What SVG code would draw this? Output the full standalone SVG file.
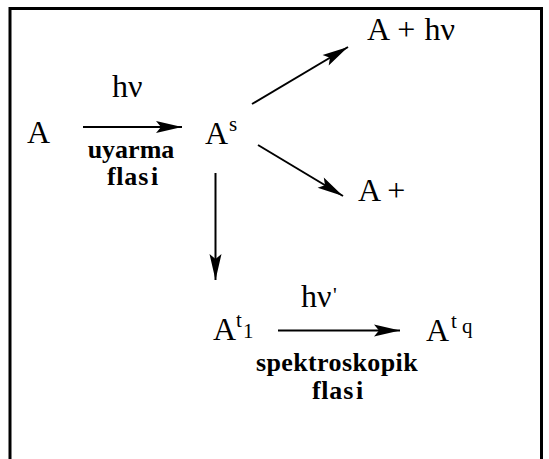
<svg xmlns="http://www.w3.org/2000/svg" width="549" height="459" viewBox="0 0 549 459">
<style>
.t{font-family:"Liberation Serif","Times New Roman",serif;font-size:32px;fill:#000}
.s{font-family:"Liberation Serif","Times New Roman",serif;font-size:21px;fill:#000}
.b{font-family:"Liberation Serif","Times New Roman",serif;font-size:26px;font-weight:bold;fill:#000;text-anchor:middle}
.c{stroke:#000;stroke-width:2;fill:none}
</style>
<defs>
<marker id="ah" markerUnits="userSpaceOnUse" markerWidth="28" markerHeight="14" refX="26" refY="6" orient="auto" overflow="visible">
<path d="M0,0 L26,6 L0,12 L5,6 z" fill="#000"/>
</marker>
</defs>
<rect x="10" y="8.5" width="531.5" height="470" fill="#fff" stroke="#000" stroke-width="3"/>
<g id="connectors">
<line class="c" x1="83" y1="127" x2="182" y2="127" marker-end="url(#ah)"/>
<line class="c" x1="252" y1="104" x2="348" y2="47" marker-end="url(#ah)"/>
<line class="c" x1="258" y1="145" x2="343" y2="196" marker-end="url(#ah)"/>
<line class="c" x1="215.5" y1="173" x2="215.5" y2="280" stroke-width="5" marker-end="url(#ah)"/>
<line class="c" x1="278" y1="330.5" x2="400" y2="330.5" marker-end="url(#ah)"/>
</g>
<g id="label1">
<text class="t" x="112" y="97">hν</text>
<text class="b" x="131" y="158">uyarma</text>
<text class="b" x="133" y="185" letter-spacing="0.8">flas<tspan dx="2">i</tspan></text>
</g>
<g id="nodeA"><text class="t" x="27" y="143">A</text></g>
<g id="nodeAs"><text class="t" x="205" y="144">A</text><text class="s" x="229" y="131">s</text></g>
<g id="nodeAhv"><text class="t" x="367" y="40" word-spacing="1">A + hν</text></g>
<g id="nodeAplus"><text class="t" x="358" y="201">A +</text></g>
<g id="nodeAt1"><text class="t" x="213" y="340">A</text><text class="s" x="236" y="327">t</text><text class="s" x="243" y="338">1</text></g>
<g id="label2">
<text class="t" x="301" y="307">hν</text><text class="s" x="333" y="302">'</text>
<text class="b" x="337" y="371" letter-spacing="0.4">spektroskopik</text>
<text class="b" x="338" y="399" letter-spacing="0.8">flas<tspan dx="2">i</tspan></text>
</g>
<g id="nodeAtq"><text class="t" x="426" y="341">A</text><text class="s" x="451" y="328">t</text><text class="s" x="462" y="333">q</text></g>
</svg>
